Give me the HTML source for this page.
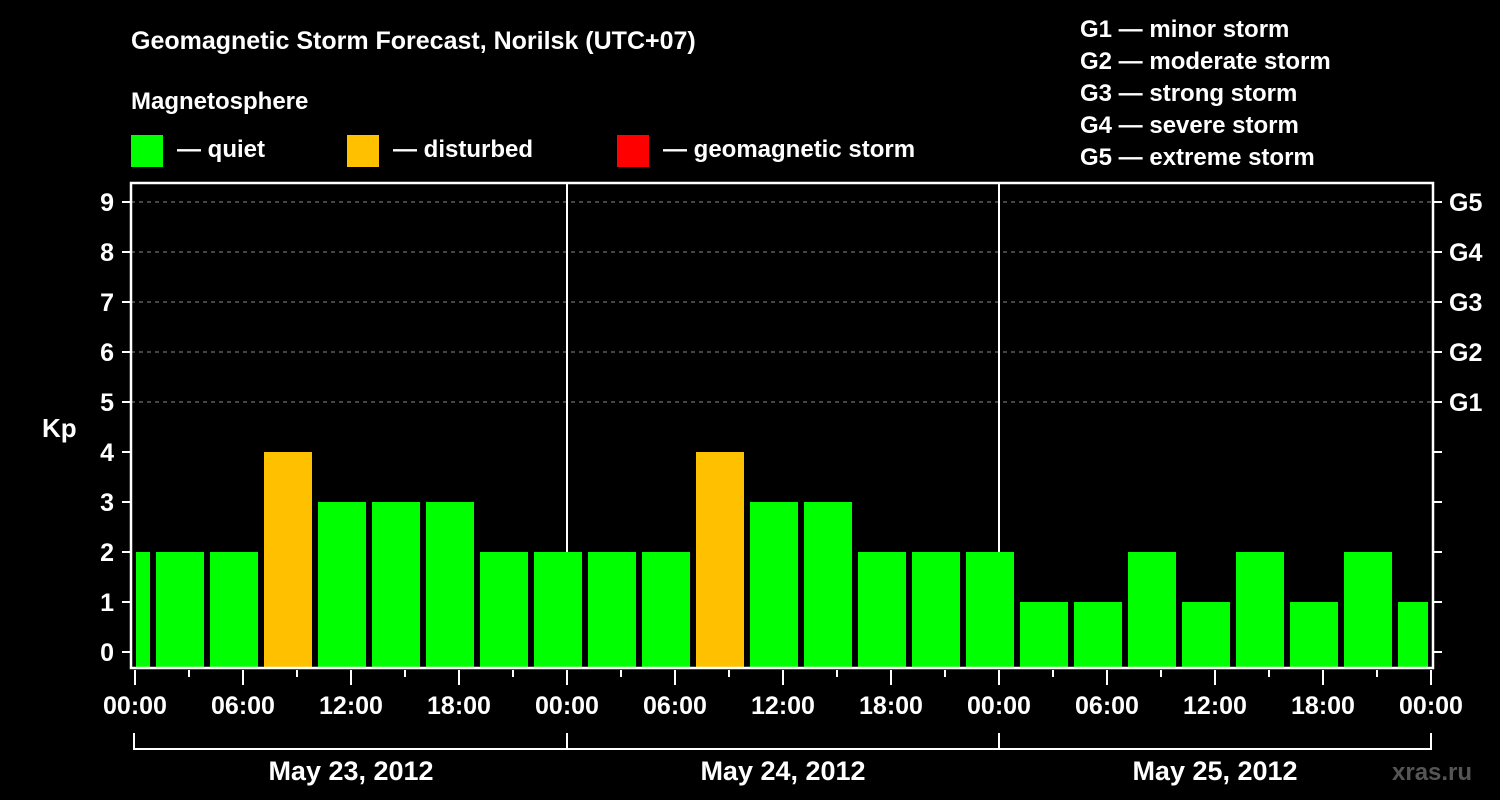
<!DOCTYPE html>
<html><head><meta charset="utf-8"><style>
html,body{margin:0;padding:0;background:#000;}
svg{display:block;font-family:"Liberation Sans",Arial,sans-serif;font-weight:bold;}
</style></head><body>
<svg id="c" width="1500" height="800" viewBox="0 0 1500 800">
<rect width="1500" height="800" fill="#000"/>
<text x="131" y="49" fill="#fff" font-size="25">Geomagnetic Storm Forecast, Norilsk (UTC+07)</text>
<text x="131" y="109" fill="#fff" font-size="24">Magnetosphere</text>
<g><rect x="131" y="135" width="32" height="32" fill="#00ff00"/><text x="177" y="157" fill="#fff" font-size="24">— quiet</text></g>
<g><rect x="347" y="135" width="32" height="32" fill="#ffc000"/><text x="393" y="157" fill="#fff" font-size="24">— disturbed</text></g>
<g><rect x="617" y="135" width="32" height="32" fill="#ff0000"/><text x="663" y="157" fill="#fff" font-size="24">— geomagnetic storm</text></g>
<g fill="#fff" font-size="24">
<text x="1080" y="37">G1 — minor storm</text>
<text x="1080" y="69">G2 — moderate storm</text>
<text x="1080" y="101">G3 — strong storm</text>
<text x="1080" y="133">G4 — severe storm</text>
<text x="1080" y="165">G5 — extreme storm</text>
</g>
<text x="42" y="437" fill="#fff" font-size="26">Kp</text>
<text x="1392" y="780" fill="#555" font-size="24">xras.ru</text>
<g id="grid"></g><g id="bars"></g><g id="axes"></g>
</svg>
<script>
const startHours=[-2,1,4,7,10,13,16,19,22,25,28,31,34,37,40,43,46,49,52,55,58,61,64,67,70];
const kpValues=[2,2,2,4,3,3,3,2,2,2,2,4,3,3,2,2,2,1,1,2,1,2,1,2,1];
const yTicks=[0,1,2,3,4,5,6,7,8,9];
const gLabels=["G1","G2","G3","G4","G5"];
const xLabels=["00:00","06:00","12:00","18:00","00:00","06:00","12:00","18:00","00:00","06:00","12:00","18:00","00:00"];
const dayLabels=["May 23, 2012","May 24, 2012","May 25, 2012"];
const NS="http://www.w3.org/2000/svg";
const X0=135,PXH=18,TOTAL=72;
const xs=h=>X0+h*PXH;
const ys=v=>652-v*50;
const L=131,R=1433,T=183,B=668;
function mk(t,a,p){const e=document.createElementNS(NS,t);for(const k in a)e.setAttribute(k,a[k]);p.appendChild(e);return e;}
const grid=document.getElementById('grid'),bars=document.getElementById('bars'),axes=document.getElementById('axes');
yTicks.forEach(v=>{
  if(v>=5){const g=mk('line',{x1:L,x2:R,y1:ys(v),y2:ys(v),stroke:'#888','stroke-width':1,'stroke-dasharray':'4,4'},grid);
  
  }
  const t=mk('line',{x1:122,x2:L,y1:ys(v),y2:ys(v),stroke:'#fff','stroke-width':2},axes);
  
  
  const t2=mk('line',{x1:R,x2:1442,y1:ys(v),y2:ys(v),stroke:'#fff','stroke-width':2},axes);
  
  
  const lb=mk('text',{x:114,y:ys(v)+9,'text-anchor':'end',fill:'#fff','font-size':25},axes);
  lb.textContent=v;
  
  
});
gLabels.forEach((g,i)=>{
  const lb=mk('text',{x:1449,y:ys(5+i)+9,fill:'#fff','font-size':25},axes);
  lb.textContent=g;
  
  
});
startHours.forEach((h,i)=>{
  let x1=Math.max(xs(h)+3,X0+1),x2=Math.min(xs(h+3)-3,1428);
  const v=kpValues[i];
  const r=mk('rect',{x:x1,y:ys(v),width:x2-x1,height:667-ys(v),fill:v>=5?'#ff0000':(v>=4?'#ffc000':'#00ff00')},bars);
  
  
});
[1,2].forEach(d=>{const l=mk('line',{x1:xs(d*24),x2:xs(d*24),y1:T,y2:B,stroke:'#fff','stroke-width':2},grid);

});
const fr=mk('rect',{x:L,y:T,width:R-L,height:B-T,fill:'none',stroke:'#fff','stroke-width':2.5},axes);


for(let h=0;h<=TOTAL;h+=3){
  const maj=h%6===0;
  const t=mk('line',{x1:xs(h),x2:xs(h),y1:670,y2:maj?685:677,stroke:'#fff','stroke-width':2},axes);
  
  
}
xLabels.forEach((s,i)=>{
  const lb=mk('text',{x:xs(i*6),y:714,'text-anchor':'middle',fill:'#fff','font-size':25},axes);
  lb.textContent=s;
  
  
});
dayLabels.forEach((s,i)=>{
  const p=mk('path',{d:`M${xs(i*24)+(i?0:-1)},733 V749 H${xs(i*24+24)} V733`,fill:'none',stroke:'#fff','stroke-width':2},axes);
  
  
  const lb=mk('text',{x:xs(i*24+12),y:780,'text-anchor':'middle',fill:'#fff','font-size':27},axes);
  lb.textContent=s;
  
  
});
</script>
</body></html>
